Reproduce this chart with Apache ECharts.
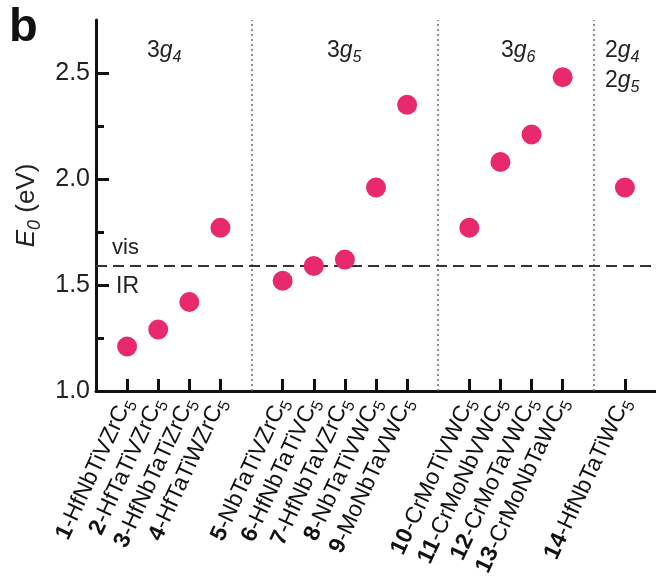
<!DOCTYPE html>
<html><head><meta charset="utf-8">
<script src="https://cdn.jsdelivr.net/npm/echarts@6/dist/echarts.min.js"></script>
<style>html,body{margin:0;padding:0;background:#fff}#c{width:656px;height:585px}</style>
</head><body><div id="c"></div>
<script>
// ---- data ----
const compounds = ['HfNbTiVZrC','HfTaTiVZrC','HfNbTaTiZrC','HfTaTiWZrC','NbTaTiVZrC','HfNbTaTiVC','HfNbTaVZrC','NbTaTiVWC','MoNbTaVWC','CrMoTiVWC','CrMoNbVWC','CrMoTaVWC','CrMoNbTaWC','HfNbTaTiWC'];
const values = [1.21,1.29,1.42,1.77,1.52,1.59,1.62,1.96,2.35,1.77,2.08,2.21,2.48,1.96];
const groupSizes = [4,5,4,1];
const groupLabels = [['3','4'],['3','5'],['3','6'],['2','4','2','5']];
const yMajorTicks = [1.0,1.5,2.0,2.5];
const yMinorTicks = [1.25,1.75,2.25];
const visIrThreshold = 1.59;

// ---- build slots ----
const slots = ['#start'];
const dividerIdx = [];
let k = 0;
groupSizes.forEach((n, g) => {
  for (let i = 0; i < n; i++) { slots.push((k + 1) + '-' + compounds[k]); k++; }
  if (g < groupSizes.length - 1) { dividerIdx.push(slots.length); slots.push('#d' + g); }
});
slots.push('#end');
const pts = compounds.map((c, i) => [(i + 1) + '-' + c, values[i]]);

const FF = '"Liberation Sans", Arial, Helvetica, sans-serif';
const chart = echarts.init(document.getElementById('c'));

const lineData = dividerIdx.map(i => ({xAxis: i, lineStyle: {type: [2, 3], color: '#6b6b6b', width: 1.5}}));
lineData.push({yAxis: visIrThreshold, lineStyle: {type: [11, 6], color: '#333', width: 2}});

const gl = (a) => {
  let s = '{n|' + a[0] + '}{g|g}{s|' + a[1] + '}';
  if (a.length > 2) s += '\n{n|' + a[2] + '}{g|g}{s|' + a[3] + '}';
  return s;
};
const glRich = {
  n: {fontSize: 23, fontFamily: FF, color: '#222', lineHeight: 30, verticalAlign: 'middle'},
  g: {fontSize: 23, fontFamily: FF, fontStyle: 'italic', color: '#222', lineHeight: 30, verticalAlign: 'middle'},
  s: {fontSize: 16, fontFamily: FF, fontStyle: 'italic', color: '#222', lineHeight: 30, verticalAlign: 'bottom'}
};
const groupX = [170, 350, 524, 628];

chart.setOption({
  animation: false,
  grid: {left: 96, top: 20, width: 562, bottom: 194, containLabel: false},
  xAxis: {
    type: 'category', data: slots, boundaryGap: false,
    axisLine: {lineStyle: {color: '#111', width: 3}},
    axisTick: {inside: true, length: 12, lineStyle: {color: '#111', width: 3},
      interval: (i, v) => v.charAt(0) !== '#'},
    axisLabel: {
      interval: (i, v) => v.charAt(0) !== '#',
      rotate: 65, margin: 8,
      formatter: (v) => {
        if (v.charAt(0) === '#') return '';
        const p = v.indexOf('-');
        return '{b|' + v.slice(0, p) + '}{t|' + v.slice(p, -1) + 'C}{s|5}';
      },
      rich: {
        b: {fontSize: 23, fontWeight: 'bold', fontFamily: FF, color: '#111', lineHeight: 30, verticalAlign: 'middle'},
        t: {fontSize: 23, fontFamily: FF, color: '#111', lineHeight: 30, verticalAlign: 'middle'},
        s: {fontSize: 16, fontFamily: FF, color: '#111', lineHeight: 30, verticalAlign: 'bottom'}
      }
    },
    splitLine: {show: false}
  },
  yAxis: [{
    type: 'value', min: 1, max: 2.75, interval: 0.5,
    axisLine: {show: true, lineStyle: {color: '#111', width: 3}},
    axisTick: {show: true, inside: true, length: 13, customValues: yMajorTicks, lineStyle: {color: '#111', width: 3}},
    axisLabel: {customValues: yMajorTicks, formatter: (v) => v.toFixed(1), fontSize: 25, fontFamily: FF, color: '#222', margin: 6},
    splitLine: {show: false},
    name: '{e|E}{z|0}{t| (eV)}', nameLocation: 'middle', nameGap: 52,
    nameTextStyle: {rich: {
      e: {fontSize: 26, fontStyle: 'italic', fontFamily: FF, color: '#222', lineHeight: 34, verticalAlign: 'middle'},
      z: {fontSize: 18, fontStyle: 'italic', fontFamily: FF, color: '#222', lineHeight: 34, verticalAlign: 'bottom'},
      t: {fontSize: 26, fontFamily: FF, color: '#222', lineHeight: 34, verticalAlign: 'middle'}
    }}
  }, {
    type: 'value', min: 1, max: 2.75, interval: 0.5, position: 'left',
    axisLine: {show: false},
    axisTick: {show: true, inside: true, length: 8, customValues: yMinorTicks, lineStyle: {color: '#111', width: 3}},
    axisLabel: {show: false}, splitLine: {show: false}
  }],
  series: [{
    type: 'scatter', data: pts, symbolSize: 20,
    itemStyle: {color: '#e8296e', opacity: 1},
    markLine: {silent: true, symbol: 'none', label: {show: false}, data: lineData, z: 1},
    z: 3
  }],
  graphic: [
    {type: 'text', left: 9, top: 5, style: {text: 'b', fontSize: 47, fontWeight: 'bold', fontFamily: FF, fill: '#111'}},
    {type: 'text', left: 112, top: 237, style: {text: 'vis', fontSize: 22, fontFamily: FF, fill: '#222'}},
    {type: 'text', left: 116, top: 275, style: {text: 'IR', fontSize: 23, fontFamily: FF, fill: '#222'}}
  ].concat(groupLabels.map((a, i) => ({
    type: 'text', left: groupX[i] - 23, top: 39,
    style: {text: gl(a), rich: glRich, fill: '#222'}
  })))
});
</script></body></html>
